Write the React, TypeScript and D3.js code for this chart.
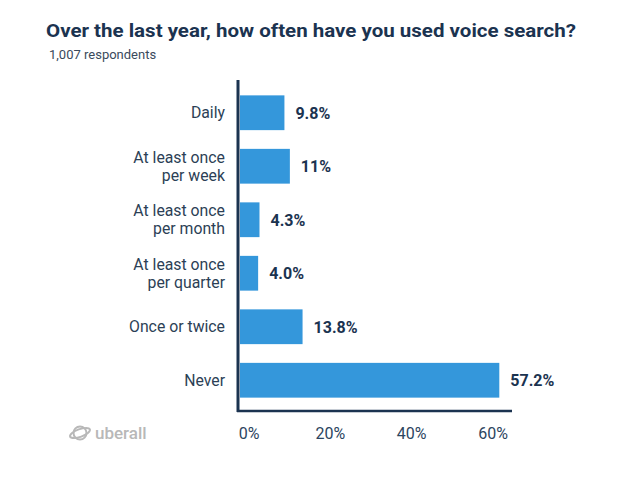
import * as d3 from "d3";

const categories = [
  "Daily",
  "At least once\nper week",
  "At least once\nper month",
  "At least once\nper quarter",
  "Once or twice",
  "Never",
];
const values = [9.8, 11, 4.3, 4.0, 13.8, 57.2];
const valueLabels = ["9.8%", "11%", "4.3%", "4.0%", "13.8%", "57.2%"];
const tickValues = [0, 20, 40, 60];

const width = 639;
const height = 491;
const navy = "#1b3350";
const blue = "#3497db";
const font = "Roboto, 'Noto Sans', sans-serif";

const x = d3.scaleLinear().domain([0, 60]).range([240, 512]);
// tick labels in the source sit on a slightly tighter grid than the bars
const xLabel = d3.scaleLinear().domain([0, 60]).range([249, 493]);
const y = d3
  .scaleBand()
  .domain(categories)
  .range([86, 407])
  .paddingInner(0.35)
  .paddingOuter(0.175);

const App = () => {
  return (
    <svg
      width={width}
      height={height}
      style={{ position: "absolute", left: 0, top: 0, background: "#fff" }}
    >
      <text
        x={46}
        y={37}
        fontFamily={font}
        fontWeight={700}
        fontSize={19}
        fill={navy}
        textLength={530}
        lengthAdjust="spacingAndGlyphs"
      >
        Over the last year, how often have you used voice search?
      </text>
      <text x={49} y={59} fontFamily={font} fontSize={13} fill="#3a4a5c">
        1,007 respondents
      </text>

      {categories.map((c, i) => {
        const cy = (y(c) ?? 0) + y.bandwidth() / 2;
        const lines = c.split("\n");
        return (
          <g key={c}>
            <rect
              x={x(0)}
              y={y(c)}
              width={x(values[i]) - x(0)}
              height={y.bandwidth()}
              fill={blue}
            />
            {lines.map((l, j) => (
              <text
                key={j}
                x={225}
                y={cy + (j - (lines.length - 1) / 2) * 18}
                dy="0.36em"
                textAnchor="end"
                fontFamily={font}
                fontSize={15.8}
                fill="#2c3f56"
              >
                {l}
              </text>
            ))}
            <text
              x={x(values[i]) + 11}
              y={cy}
              dy="0.36em"
              fontFamily={font}
              fontWeight={700}
              fontSize={16}
              fill={navy}
            >
              {valueLabels[i]}
            </text>
          </g>
        );
      })}

      <line x1={238} x2={238} y1={80} y2={412} stroke={navy} strokeWidth={3} />
      <line x1={237} x2={x(60)} y1={411} y2={411} stroke={navy} strokeWidth={2.5} />
      {tickValues.map((t) => (
        <text
          key={t}
          x={xLabel(t)}
          y={433}
          dy="0.36em"
          textAnchor="middle"
          fontFamily={font}
          fontSize={16}
          fill="#2c4560"
        >
          {t}%
        </text>
      ))}

      <g transform="translate(80,433)" fill="none" stroke="#b8b8b8" strokeWidth={2}>
        <circle r={6.5} />
        <ellipse rx={10.5} ry={3.8} transform="rotate(-20)" />
      </g>
      <text
        x={95}
        y={433}
        dy="0.36em"
        fontFamily={font}
        fontWeight={500}
        fontSize={17}
        fill="#b8b8b8"
      >
        uberall
      </text>
    </svg>
  );
};

export default App;
